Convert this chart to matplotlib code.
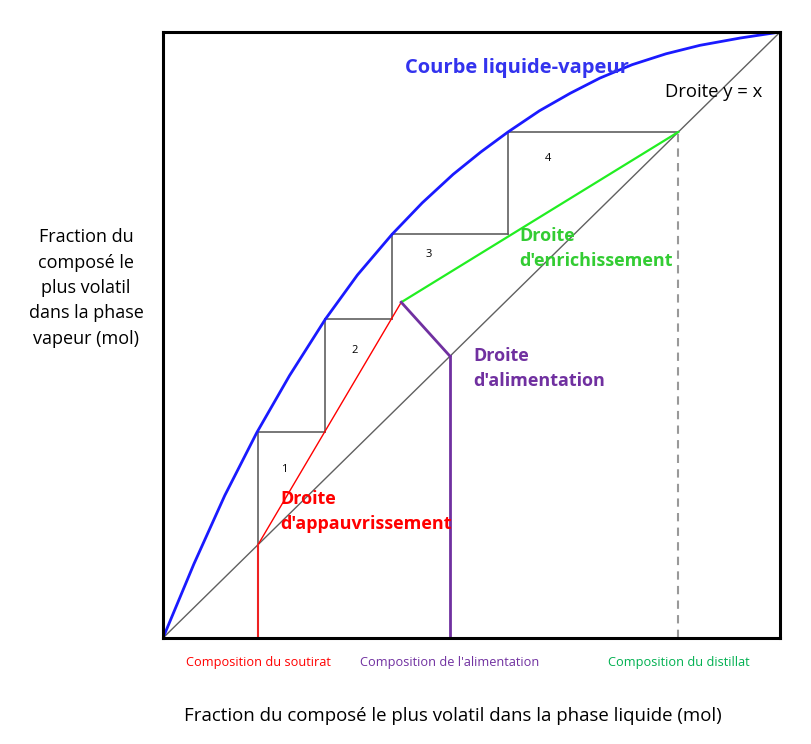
import matplotlib.pyplot as plt

plt.rcParams['font.family'] = ['Open Sans', 'DejaVu Sans']

# Courbe d'equilibre liquide-vapeur
curve_x = [0.0, 0.05, 0.10, 0.152, 0.205, 0.263, 0.315, 0.371, 0.42, 0.47, 0.515,
           0.559, 0.61, 0.66, 0.708, 0.76, 0.815, 0.87, 0.935, 1.0]
curve_y = [0.0, 0.122, 0.235, 0.339, 0.433, 0.526, 0.599, 0.666, 0.718, 0.765, 0.802,
           0.835, 0.870, 0.899, 0.924, 0.946, 0.964, 0.978, 0.990, 1.0]

# compositions
x_soutirat = 0.154
x_alim = 0.465
x_distillat = 0.835
# point d'intersection des droites operatoires
x_inter = 0.386
y_inter = 0.554

# plateaux (marches)
step_x = [0.154, 0.263, 0.371, 0.559]
step_y = [0.340, 0.526, 0.666, 0.835]
step_labels = ["1", "2", "3", "4"]
label_pos = [(0.197, 0.278), (0.311, 0.474), (0.431, 0.633), (0.624, 0.792)]

fig = plt.figure(figsize=(8.11, 7.44), dpi=100)
ax = fig.add_axes([0.201, 0.1425, 0.761, 0.8145])
ax.set_xlim(0, 1)
ax.set_ylim(0, 1)
ax.set_xticks([])
ax.set_yticks([])
for s in ax.spines.values():
    s.set_linewidth(2.2)
    s.set_color("black")

gray = "#606060"
purple = "#7030a0"

# droite y = x
ax.plot([0, 1], [0, 1], color=gray, lw=1)

# marches
bounds = step_x[1:] + [x_distillat]
for i in range(len(step_x)):
    y0 = x_soutirat if i == 0 else step_y[i - 1]
    ax.plot([step_x[i], step_x[i]], [y0, step_y[i]], color=gray, lw=1.2)
    ax.plot([step_x[i], bounds[i]], [step_y[i], step_y[i]], color=gray, lw=1.2)
    ax.text(label_pos[i][0], label_pos[i][1], step_labels[i], fontsize=8,
            ha="center", va="center")

# courbe
ax.plot(curve_x, curve_y, color="#1a1aff", lw=2)

# droites operatoires
ax.plot([x_soutirat, x_inter], [x_soutirat, y_inter], color="red", lw=1)
ax.plot([x_inter, x_distillat], [y_inter, x_distillat], color="#22ee22", lw=1.6)
ax.plot([x_inter, x_alim], [y_inter, x_alim], color=purple, lw=2)

# verticales des compositions
ax.plot([x_soutirat, x_soutirat], [0, x_soutirat], color="#ee2222", lw=1.5, clip_on=False)
ax.plot([x_alim, x_alim], [0, x_alim], color=purple, lw=2, clip_on=False)
ax.plot([x_distillat, x_distillat], [0, x_distillat], color="#999999", lw=1.5,
        ls=(0, (4, 3)))

# textes
ax.text(0.392, 0.941, "Courbe liquide-vapeur", color="#3333ee", fontsize=14.5,
        fontweight="bold", va="center")
ax.text(0.813, 0.901, "Droite y = x", fontsize=13.3, va="center")
ax.text(0.578, 0.642, "Droite\nd'enrichissement", color="#33cc33", fontsize=13,
        fontweight="bold", va="center", linespacing=1.5)
ax.text(0.503, 0.444, "Droite\nd'alimentation", color=purple, fontsize=13,
        fontweight="bold", va="center", linespacing=1.5)
ax.text(0.19, 0.208, "Droite\nd'appauvrissement", color="red", fontsize=13,
        fontweight="bold", va="center", linespacing=1.5)

ax.text(x_soutirat, -0.04, "Composition du soutirat", color="red", fontsize=9.2,
        ha="center", va="center")
ax.text(x_alim, -0.04, "Composition de l'alimentation", color=purple, fontsize=9.2,
        ha="center", va="center")
ax.text(x_distillat, -0.04, "Composition du distillat", color="#00b050", fontsize=9.2,
        ha="center", va="center")

fig.text(0.5585, 0.037, "Fraction du composé le plus volatil dans la phase liquide (mol)",
         fontsize=13.4, ha="center", va="center")
fig.text(0.106, 0.613, "Fraction du\ncomposé le\nplus volatil\ndans la phase\nvapeur (mol)",
         fontsize=13, ha="center", va="center", linespacing=1.53)

fig.savefig("out.png", dpi=100)
